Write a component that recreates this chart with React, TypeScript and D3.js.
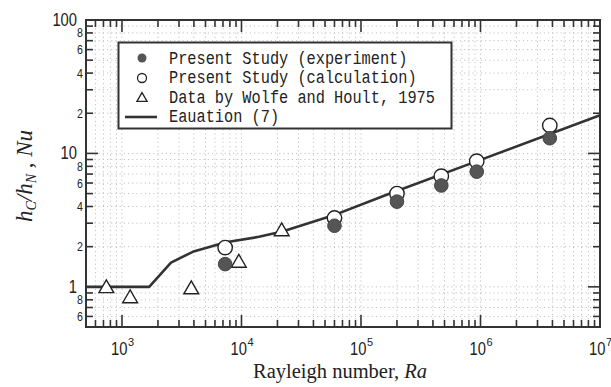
import React from "react";
import * as d3 from "d3";

const expRa = [7300, 6e4, 2e5, 4.7e5, 9.3e5, 3.8e6];
const expNu = [1.48, 2.87, 4.35, 5.75, 7.3, 13.0];
const calcRa = [7300, 6e4, 2e5, 4.7e5, 9.3e5, 3.8e6];
const calcNu = [1.97, 3.28, 5.0, 6.75, 8.75, 16.2];
const wolfeRa = [740, 1170, 3800, 9500, 2.17e4];
const wolfeNu = [1.0, 0.84, 0.98, 1.55, 2.67];
const eqRa = [500, 1690, 2570, 3910, 7400, 1.4e4, 2.2e4, 5.8e4, 1.62e5, 1e6, 1e7];
const eqNu = [1, 1, 1.52, 1.83, 2.16, 2.37, 2.6, 3.42, 4.88, 8.95, 19.3];
const legendLabels = [
  "Present Study (experiment)",
  "Present Study (calculation)",
  "Data by Wolfe and Hoult, 1975",
  "Eauation (7)",
];

const W = 611, H = 387;
const L = 86, R = 600, T = 20, B = 327;
const dark = "#333";

export default function App() {
  const x = d3.scaleLog().domain([500, 1e7]).range([L, R]);
  const y = d3.scaleLog().domain([0.5, 100]).range([B, T]);

  const xTicks: { v: number; major: boolean }[] = [];
  for (let e = 2; e <= 6; e++) {
    for (let m = 1; m <= 9; m++) {
      const v = m * Math.pow(10, e);
      if (v >= 500 && v <= 1e7) xTicks.push({ v, major: m === 1 });
    }
  }
  xTicks.push({ v: 1e7, major: true });
  const yTicks: { v: number; major: boolean }[] = [];
  for (let e = -1; e <= 1; e++) {
    for (let m = 1; m <= 9; m++) {
      const v = m * Math.pow(10, e);
      if (v >= 0.5 - 1e-9 && v <= 100) yTicks.push({ v, major: m === 1 });
    }
  }
  yTicks.push({ v: 100, major: true });

  const line = d3
    .line<number>()
    .x((_, i) => x(eqRa[i]))
    .y((d) => y(d))
    .curve(d3.curveLinear);

  const tri = d3.symbol().type(d3.symbolTriangle).size(95);

  const yLabelMinor = [2, 4, 6, 8, 20, 40, 60, 80];
  const yMinorText = (v: number) => String(v >= 10 ? v / 10 : v);

  return (
    <svg width={W} height={H} style={{ position: "absolute", left: 0, top: 0, background: "#fff" }}>
      <rect x={0} y={0} width={W} height={H} fill="#fff" />
      {/* grid */}
      <g stroke="#c2c2c2" strokeWidth={1} strokeDasharray="1.2,3">
        {xTicks.filter((t) => t.v > 500 && t.v < 1e7).map((t, i) => (
          <line key={"gx" + i} x1={x(t.v)} x2={x(t.v)} y1={T} y2={B} />
        ))}
        {yTicks.filter((t) => t.v > 0.5 && t.v < 100).map((t, i) => (
          <line key={"gy" + i} x1={L} x2={R} y1={y(t.v)} y2={y(t.v)} />
        ))}
      </g>
      {/* ticks */}
      <g stroke={dark} strokeWidth={1.6}>
        {xTicks.map((t, i) => {
          const len = t.major ? 12 : 7;
          return (
            <g key={"tx" + i}>
              <line x1={x(t.v)} x2={x(t.v)} y1={B} y2={B - len} />
              <line x1={x(t.v)} x2={x(t.v)} y1={T} y2={T + len} />
            </g>
          );
        })}
        {yTicks.map((t, i) => {
          const len = t.major ? 12 : 7;
          return (
            <g key={"ty" + i}>
              <line x1={L} x2={L + len} y1={y(t.v)} y2={y(t.v)} />
              <line x1={R} x2={R - len} y1={y(t.v)} y2={y(t.v)} />
            </g>
          );
        })}
      </g>
      {/* frame */}
      <rect x={L} y={T} width={R - L} height={B - T} fill="none" stroke={dark} strokeWidth={2} />
      {/* y tick labels */}
      <g fontFamily="Liberation Sans, Arial, sans-serif" fill="#222">
        {[1, 10, 100].map((v) => (
          <text key={"ym" + v} transform={`translate(77,${y(v) + 6}) scale(0.82,1)`} textAnchor="end" fontSize={18}>
            {v}
          </text>
        ))}
        {yLabelMinor.map((v) => (
          <text key={"yn" + v} transform={`translate(83,${y(v) + 4.5}) scale(0.85,1)`} textAnchor="end" fontSize={12.5}>
            {yMinorText(v)}
          </text>
        ))}
        {[6, 8].map((m) => (
          <text key={"yl" + m} transform={`translate(83,${y(m / 10) + 4.5}) scale(0.85,1)`} textAnchor="end" fontSize={12.5}>
            {m}
          </text>
        ))}
      </g>
      {/* x tick labels */}
      <g fontFamily="Liberation Sans, Arial, sans-serif" fill="#222">
        {[3, 4, 5, 6, 7].map((e) => (
          <g key={"xl" + e} transform={`translate(${x(Math.pow(10, e)) - 11},355)`}>
            <text transform="scale(0.82,1)" fontSize={18}>10</text>
            <text x={17} y={-9} fontSize={11}>{e}</text>
          </g>
        ))}
      </g>
      {/* axis titles */}
      <text x={253} y={378} fontFamily="Liberation Serif, Times New Roman, serif" fontSize={20.5} fill="#222">
        Rayleigh number, <tspan fontStyle="italic">Ra</tspan>
      </text>
      <text
        transform="translate(32,176) rotate(-90)"
        textAnchor="middle"
        fontFamily="Liberation Serif, Times New Roman, serif"
        fontStyle="italic"
        fontSize={23}
        fill="#222"
      >
        h<tspan fontSize={14} dy={4}>C</tspan>
        <tspan dy={-4}>/h</tspan>
        <tspan fontSize={14} dy={4}>N</tspan>
        <tspan dy={-4} fontStyle="normal"> , </tspan>
        <tspan>Nu</tspan>
      </text>
      {/* equation line */}
      <path d={line(eqNu) || ""} fill="none" stroke={dark} strokeWidth={2.6} strokeLinejoin="round" />
      {/* wolfe triangles */}
      {wolfeRa.map((r, i) => (
        <path
          key={"w" + i}
          d={tri() || ""}
          transform={`translate(${x(r)},${y(wolfeNu[i]) + 1.5})`}
          fill="#fff"
          stroke="#222"
          strokeWidth={1.4}
        />
      ))}
      {/* calc open circles */}
      {calcRa.map((r, i) => (
        <circle key={"c" + i} cx={x(r)} cy={y(calcNu[i])} r={7.2} fill="#fff" stroke="#222" strokeWidth={1.4} />
      ))}
      {/* experiment filled */}
      {expRa.map((r, i) => (
        <circle key={"e" + i} cx={x(r)} cy={y(expNu[i])} r={6.8} fill="#555" stroke="#444" strokeWidth={1} />
      ))}
      {/* legend */}
      <g>
        <rect x={118.5} y={42.5} width={333} height={86} fill="#fff" stroke={dark} strokeWidth={2} />
        <circle cx={142} cy={58} r={4.5} fill="#555" />
        <circle cx={142} cy={78} r={4.5} fill="#fff" stroke="#222" strokeWidth={1.3} />
        <path d={d3.symbol().type(d3.symbolTriangle).size(45)() || ""} transform="translate(142,98.5)" fill="#fff" stroke="#222" strokeWidth={1.3} />
        <line x1={125} x2={157} y1={117} y2={117} stroke={dark} strokeWidth={2.6} />
        {legendLabels.map((t, i) => (
          <text
            key={"lg" + i}
            transform={`translate(169,${63.5 + i * 19.6}) scale(1,1.15)`}
            fontFamily="Liberation Mono, DejaVu Sans Mono, monospace"
            fontSize={15.3}
            fill="#222"
          >
            {t}
          </text>
        ))}
      </g>
    </svg>
  );
}
